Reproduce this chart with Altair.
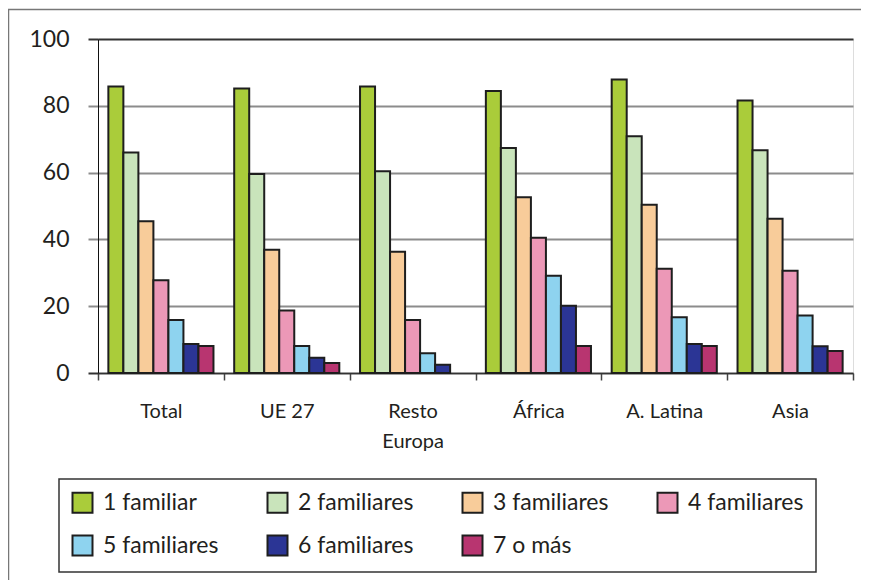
import altair as alt
import pandas as pd

categories = ["Total", "UE 27", "Resto Europa", "África", "A. Latina", "Asia"]
series = ["1 familiar", "2 familiares", "3 familiares", "4 familiares",
          "5 familiares", "6 familiares", "7 o más"]
colors = ["#AACC3A", "#C9E4BB", "#F8CC9A", "#EC98B7", "#8ED3EF", "#2B3595", "#B83570"]

v1 = [85.8, 85.2, 85.8, 84.4, 87.9, 81.6]
v2 = [66.0, 59.6, 60.4, 67.4, 70.9, 66.7]
v3 = [45.4, 36.9, 36.3, 52.6, 50.4, 46.2]
v4 = [27.8, 18.7, 15.9, 40.5, 31.2, 30.6]
v5 = [15.9, 8.1, 5.9, 29.1, 16.7, 17.2]
v6 = [8.7, 4.6, 2.5, 20.1, 8.7, 8.0]
v7 = [8.1, 3.0, 0.0, 8.1, 8.1, 6.6]
values = [v1, v2, v3, v4, v5, v6, v7]

rows = []
for s, vals in zip(series, values):
    for c, v in zip(categories, vals):
        rows.append({"cat": c, "serie": s, "valor": v})
df = pd.DataFrame(rows)

FONT = "Lato"
TXT = "#231f20"
W, H = 755, 334

bars = alt.Chart(df).transform_filter("datum.valor > 0").mark_bar(
    stroke="#1e1e1e", strokeWidth=2, opacity=1
).encode(
    x=alt.X("cat:N", sort=categories, title=None,
            scale=alt.Scale(domain=categories, paddingInner=0, paddingOuter=0),
            axis=alt.Axis(labelAngle=0, labelFont=FONT, labelFontSize=20, labelColor=TXT,
                          labelPadding=21, tickSize=7, tickColor="#444", tickWidth=1.5,
                          tickBand="extent", domainColor="#333", domainWidth=1.5,
                          labelLineHeight=30, labelBaseline="top",
                          labelExpr="datum.label == 'Resto Europa' ? ['Resto', 'Europa'] : datum.label",
                          grid=False)),
    xOffset=alt.XOffset("serie:N", sort=series,
                        scale=alt.Scale(domain=series, paddingInner=0, paddingOuter=0.69)),
    y=alt.Y("valor:Q", title=None,
            scale=alt.Scale(domain=[0, 100], nice=False),
            axis=alt.Axis(values=[0, 20, 40, 60, 80, 100], labelFont=FONT, labelFontSize=23,
                          labelColor=TXT, labelPadding=19, tickSize=10,
                          tickColor=alt.condition("datum.value == 100 || datum.value == 0",
                                                  alt.value("#333"), alt.value("#8c8c8c")),
                          tickWidth=2,
                          gridColor=alt.condition("datum.value == 100",
                                                  alt.value("#333"), alt.value("#8c8c8c")),
                          gridWidth=2, gridOpacity=1,
                          domainColor="#111", domainWidth=1)),
    color=alt.Color("serie:N", sort=series,
                    scale=alt.Scale(domain=series, range=colors),
                    legend=alt.Legend(title=None, orient="none", legendX=-39, legendY=440,
                                      direction="horizontal",
                                      columns=4, gridAlign="all", columnPadding=44,
                                      rowPadding=14, padding=12,
                                      strokeColor="#333",
                                      symbolType="square", symbolSize=400,
                                      symbolStrokeColor="#1e1e1e", symbolStrokeWidth=2,
                                      symbolOpacity=1, labelOffset=9,
                                      labelFont=FONT, labelFontSize=23, labelColor=TXT,
                                      labelLimit=300)),
)

frame = alt.Chart(pd.DataFrame({"a": [0]})).mark_rect(
    fill="transparent", stroke="#777", strokeWidth=1.5
).encode(
    x=alt.value(-89.5), x2=alt.value(820), y=alt.value(-29.5), y2=alt.value(620)
)

chart = alt.layer(frame, bars).properties(
    width=W, height=H,
    autosize=alt.AutoSizeParams(type="none"),
    padding={"left": 90, "top": 31, "right": 8, "bottom": 207},
).configure_view(stroke=None).configure(background="white").configure_legend(strokeWidth=1.5)

chart.save("out.html", embed_options={"renderer": "svg", "actions": False})
